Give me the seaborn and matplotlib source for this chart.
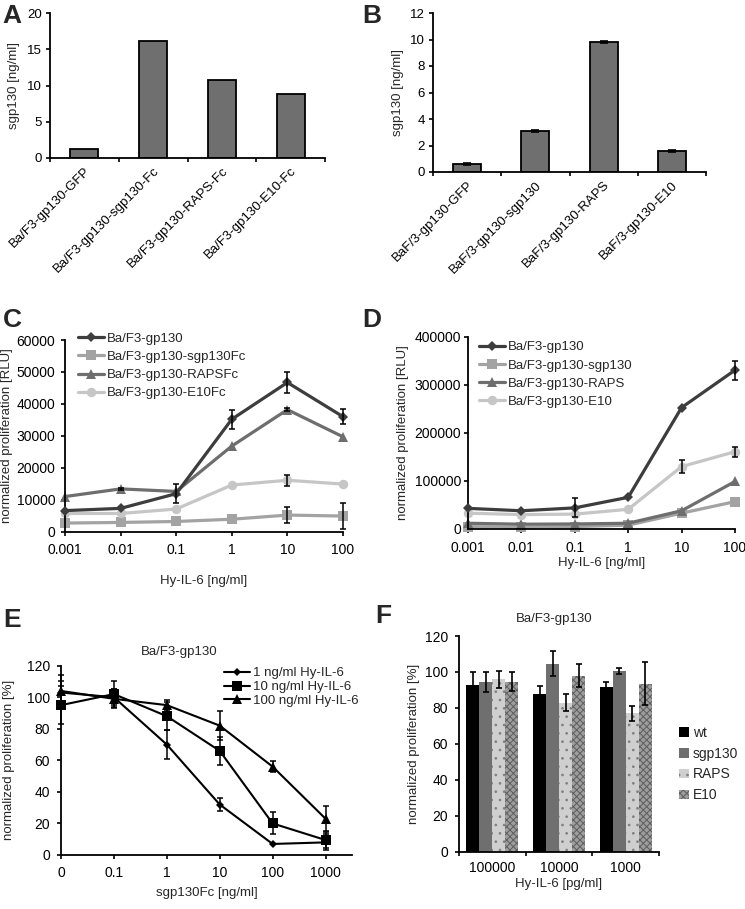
import numpy as np
import pandas as pd
import seaborn as sns
import matplotlib.pyplot as plt
from matplotlib.lines import Line2D
from matplotlib.ticker import FixedLocator
from matplotlib.transforms import blended_transform_factory

# A: sgp130 in supernatant, Fc constructs
a_cells = ["Ba/F3-gp130-GFP", "Ba/F3-gp130-sgp130-Fc", "Ba/F3-gp130-RAPS-Fc", "Ba/F3-gp130-E10-Fc"]
a_sgp130 = [1.3, 16.1, 10.8, 8.8]

# B: sgp130 in supernatant, untagged constructs
b_cells = ["BaF/3-gp130-GFP", "BaF/3-gp130-sgp130", "BaF/3-gp130-RAPS", "BaF/3-gp130-E10"]
b_sgp130 = [0.6, 3.1, 9.8, 1.6]
b_err = [0.08, 0.06, 0.1, 0.06]

# C / D: proliferation vs Hy-IL-6
hyil6_ng = ["0.001", "0.01", "0.1", "1", "10", "100"]
c_series = ["Ba/F3-gp130", "Ba/F3-gp130-sgp130Fc", "Ba/F3-gp130-RAPSFc", "Ba/F3-gp130-E10Fc"]
c_gp130 = [6600, 7300, 11900, 35200, 46700, 36000]
c_sgp130fc = [2700, 2900, 3200, 3900, 5200, 4900]
c_rapsfc = [11000, 13400, 12600, 26800, 38200, 29700]
c_e10fc = [5700, 5700, 7100, 14600, 16100, 14900]
c_gp130_err = [0, 0, 3000, 2900, 3400, 2400]
c_sgp130fc_err = [0, 0, 0, 0, 2500, 4200]
c_rapsfc_err = [0, 400, 0, 0, 500, 0]
c_e10fc_err = [0, 0, 0, 0, 1800, 0]

d_series = ["Ba/F3-gp130", "Ba/F3-gp130-sgp130", "Ba/F3-gp130-RAPS", "Ba/F3-gp130-E10"]
d_gp130 = [43000, 38000, 44000, 66000, 253000, 331000]
d_sgp130 = [5000, 4000, 5000, 8000, 33000, 57000]
d_raps = [12000, 10000, 10500, 12000, 38000, 99000]
d_e10 = [33000, 30000, 31000, 41000, 130000, 161000]
d_gp130_err = [0, 0, 20000, 0, 0, 20000]
d_e10_err = [0, 0, 0, 0, 14000, 10000]

# E: inhibition by sgp130Fc
sgp130fc_ng = ["0", "0.1", "1", "10", "100", "1000"]
e_series = ["1 ng/ml Hy-IL-6", "10 ng/ml Hy-IL-6", "100 ng/ml Hy-IL-6"]
e_1ng = [103, 100, 70, 32, 7, 8]
e_10ng = [95, 102, 88, 66, 20, 9.5]
e_100ng = [104, 99, 95, 82, 56, 23]
e_1ng_err = [7, 5, 9, 4, 0, 5]
e_10ng_err = [12, 8, 9, 9, 7, 5]
e_100ng_err = [10, 6, 3.5, 9, 3.5, 8]

# F: Ba/F3-gp130 with conditioned supernatants
f_doses = ["100000", "10000", "1000"]
f_lines = ["wt", "sgp130", "RAPS", "E10"]
f_wt = [93, 88, 91.5]
f_sgp130 = [94.5, 104.5, 100.5]
f_raps = [96, 83, 77]
f_e10 = [94.5, 98, 93.5]
f_wt_err = [7, 4, 2.7]
f_sgp130_err = [5.5, 7, 1.8]
f_raps_err = [4.7, 4.6, 4.3]
f_e10_err = [5.3, 6.3, 12]

sns.set_theme(style="ticks")
plt.rcParams["font.family"] = ["Liberation Sans", "DejaVu Sans"]
plt.rcParams["hatch.linewidth"] = 0.7

W, H = 745, 909
fig = plt.figure(figsize=(W / 100, H / 100), dpi=100)

line_grays = ["#3d3d3d", "#a3a3a3", "#6e6e6e", "#c6c6c6"]
bar_gray = "#6f6f6f"


def box(x0, y0, x1, y1):
    # pixel box (top-left origin) -> figure fraction
    return [x0 / W, 1 - y1 / H, (x1 - x0) / W, (y1 - y0) / H]


def tidy(ax, labelsize=10, xpad=4, ypad=3):
    sns.despine(ax=ax)
    for side in ["left", "bottom"]:
        ax.spines[side].set_linewidth(1.3)
        ax.spines[side].set_color("black")
    ax.tick_params(which="both", direction="out", length=3, width=1.2, colors="black", labelsize=labelsize)
    ax.tick_params(axis="x", which="both", pad=xpad)
    ax.tick_params(axis="y", which="both", pad=ypad)
    ax.set_xlabel("")
    ax.set_ylabel("")


def labels(ax, ylabel, ylab_right, xlabel=None, xlab_top=None):
    ax.set_ylabel(ylabel, fontsize=9.5)
    ax.yaxis.set_label_coords(ylab_right / W, 0.5,
                              transform=blended_transform_factory(fig.transFigure, ax.transAxes))
    if xlabel:
        ax.set_xlabel(xlabel, fontsize=9.5)
        ax.xaxis.set_label_coords(0.5, 1 - xlab_top / H,
                                  transform=blended_transform_factory(ax.transAxes, fig.transFigure))


def category_ticks(ax, names, rotation=0, pad=4):
    n = len(names)
    ax.set_xlim(-0.5, n - 0.5)
    ax.set_xticks(range(n))
    if rotation:
        ax.set_xticklabels(names, rotation=rotation, ha="right", rotation_mode="anchor")
    else:
        ax.set_xticklabels(names)
    ax.xaxis.set_minor_locator(FixedLocator(np.arange(-0.5, n, 1)))
    ax.tick_params(axis="x", which="major", length=0, pad=pad)


def add_errors(ax, x, y, err, cap=2.5, lw=1.1):
    x = np.asarray(x, float)
    y = np.asarray(y, float)
    err = np.asarray(err, float)
    keep = err > 0
    ax.errorbar(x[keep], y[keep], yerr=err[keep], fmt="none", ecolor="black",
                elinewidth=lw, capsize=cap, capthick=lw, zorder=6, clip_on=False)


def line_legend(ax, names, colors, markers, sizes, lw, x_px, y_px, spacing, fs=9.5):
    handles = [Line2D([], [], color=c, marker=m, markersize=s, lw=lw, mew=0)
               for c, m, s in zip(colors, markers, sizes)]
    ax.legend(handles, names, loc="center left", bbox_to_anchor=(x_px / W, 1 - y_px / H),
              bbox_transform=fig.transFigure, frameon=False, fontsize=fs, handlelength=2.0,
              handletextpad=0.2, labelspacing=spacing, borderpad=0, borderaxespad=0)


def panel_letter(text, x_px, base_px):
    fig.text(x_px / W, 1 - base_px / H, text, fontsize=19, fontweight="bold", va="baseline", ha="left")


# ---- A
ax_a = fig.add_axes(box(50, 13, 325, 158))
sns.barplot(x=a_cells, y=a_sgp130, color=bar_gray, saturation=1, edgecolor="black",
            linewidth=1.3, width=0.41, ax=ax_a)
tidy(ax_a, labelsize=9.5)
category_ticks(ax_a, a_cells, rotation=45, pad=5)
ax_a.set_ylim(0, 20)
ax_a.set_yticks(range(0, 21, 5))
labels(ax_a, "sgp130 [ng/ml]", 20)

# ---- B
ax_b = fig.add_axes(box(433, 13, 706, 172))
sns.barplot(x=b_cells, y=b_sgp130, color=bar_gray, saturation=1, edgecolor="black",
            linewidth=1.3, width=0.41, ax=ax_b)
add_errors(ax_b, range(len(b_cells)), b_sgp130, b_err, cap=3, lw=1.2)
tidy(ax_b, labelsize=9.5)
category_ticks(ax_b, b_cells, rotation=45, pad=5)
ax_b.set_ylim(0, 12)
ax_b.set_yticks(range(0, 13, 2))
labels(ax_b, "sgp130 [ng/ml]", 404)


def dose_lines(ax, series, values, markers, colors, lw, ms, ds):
    n = len(values[0])
    df = pd.DataFrame({
        "pos": list(range(n)) * len(series),
        "val": sum(values, []),
        "line": np.repeat(series, n),
    })
    sns.lineplot(data=df, x="pos", y="val", hue="line", style="line", palette=colors,
                 markers=markers, dashes=False, linewidth=lw, markersize=ms,
                 markeredgewidth=0, clip_on=False, legend=False, ax=ax)
    for ln in ax.lines:
        if ln.get_marker() == "D":
            ln.set_markersize(ds)
    ax.lines[0].set_zorder(4)


# ---- C
ax_c = fig.add_axes(box(65, 340, 343, 531.7))
dose_lines(ax_c, c_series, [c_gp130, c_sgp130fc, c_rapsfc, c_e10fc],
           ["D", "s", "^", "o"], line_grays, 2.3, 6.8, 5)
for vals, errs in zip([c_gp130, c_sgp130fc, c_rapsfc, c_e10fc],
                      [c_gp130_err, c_sgp130fc_err, c_rapsfc_err, c_e10fc_err]):
    add_errors(ax_c, range(len(hyil6_ng)), vals, errs)
tidy(ax_c, xpad=5, ypad=4)
ax_c.set_xlim(0, len(hyil6_ng) - 1)
ax_c.set_xticks(range(len(hyil6_ng)))
ax_c.set_xticklabels(hyil6_ng)
ax_c.set_ylim(0, 60000)
ax_c.set_yticks(range(0, 60001, 10000))
labels(ax_c, "normalized proliferation [RLU]", 13, "Hy-IL-6 [ng/ml]", 575)
line_legend(ax_c, c_series, line_grays, ["D", "s", "^", "o"], [5, 6.8, 6.8, 6.8], 2.3,
            78, 366, 0.45)

# ---- D
ax_d = fig.add_axes(box(468, 337, 735, 529))
dose_lines(ax_d, d_series, [d_gp130, d_sgp130, d_raps, d_e10],
           ["D", "s", "^", "o"], line_grays, 2.3, 6.8, 5)
for vals, errs in zip([d_gp130, d_e10], [d_gp130_err, d_e10_err]):
    add_errors(ax_d, range(len(hyil6_ng)), vals, errs)
tidy(ax_d, xpad=6, ypad=2)
ax_d.set_xlim(0, len(hyil6_ng) - 1)
ax_d.set_xticks(range(len(hyil6_ng)))
ax_d.set_xticklabels(hyil6_ng)
ax_d.set_ylim(0, 400000)
ax_d.set_yticks(range(0, 400001, 100000))
labels(ax_d, "normalized proliferation [RLU]", 409, "Hy-IL-6 [ng/ml]", 557)
line_legend(ax_d, d_series, line_grays, ["D", "s", "^", "o"], [5, 6.8, 6.8, 6.8], 2.3,
            479, 374.5, 0.45)

# ---- E
ax_e = fig.add_axes(box(61, 665.7, 352, 855))
dose_lines(ax_e, e_series, [e_1ng, e_10ng, e_100ng], ["D", "s", "^"],
           ["black", "black", "black"], 1.5, 6.5, 4.5)
for vals, errs in zip([e_1ng, e_10ng, e_100ng], [e_1ng_err, e_10ng_err, e_100ng_err]):
    add_errors(ax_e, range(len(sgp130fc_ng)), vals, errs)
tidy(ax_e, xpad=5, ypad=5)
ax_e.set_xlim(0, len(sgp130fc_ng) - 0.5)
ax_e.set_xticks(range(len(sgp130fc_ng)))
ax_e.set_xticklabels(sgp130fc_ng)
ax_e.set_ylim(0, 120)
ax_e.set_yticks(range(0, 121, 20))
labels(ax_e, "normalized proliferation [%]", 15, "sgp130Fc [ng/ml]", 887)
fig.text(179 / W, 1 - 652 / H, "Ba/F3-gp130", fontsize=9.5, ha="center", va="center")
line_legend(ax_e, e_series, ["black"] * 3, ["D", "s", "^"], [4.5, 6.5, 6.5], 1.5,
            224, 687, 0.12)

# ---- F
ax_f = fig.add_axes(box(459, 636, 659, 851.7))
df_f = pd.DataFrame({
    "dose": f_doses * len(f_lines),
    "cells": np.repeat(f_lines, len(f_doses)),
    "prolif": f_wt + f_sgp130 + f_raps + f_e10,
})
sns.barplot(data=df_f, x="dose", y="prolif", hue="cells",
            palette=["#000000", "#6f6f6f", "#cfcfcf", "#9d9d9d"], saturation=1,
            width=0.78, gap=0, linewidth=0, errorbar=None, legend=False, ax=ax_f)
bar_sets = list(ax_f.containers)
for cont, hatch, hc in zip(bar_sets[2:], ["..", "xxxxx"], ["#808080", "#5e5e5e"]):
    for bar in cont:
        bar.set_hatch(hatch)
        bar.set_edgecolor(hc)
        bar.set_linewidth(0)
for cont, errs in zip(bar_sets, [f_wt_err, f_sgp130_err, f_raps_err, f_e10_err]):
    xs = [b.get_x() + b.get_width() / 2 for b in cont]
    ys = [b.get_height() for b in cont]
    add_errors(ax_f, xs, ys, errs, cap=2.5, lw=1.2)
tidy(ax_f, ypad=5)
category_ticks(ax_f, f_doses, pad=7)
ax_f.set_ylim(0, 120)
ax_f.set_yticks(range(0, 121, 20))
labels(ax_f, "normalized proliferation [%]", 420, "Hy-IL-6 [pg/ml]", 878)
fig.text(554 / W, 1 - 619 / H, "Ba/F3-gp130", fontsize=9.5, ha="center", va="center")
ax_f.legend([c.patches[0] for c in bar_sets], f_lines, loc="center left",
            bbox_to_anchor=(679 / W, 1 - 764 / H), bbox_transform=fig.transFigure,
            frameon=False, fontsize=10, handlelength=0.7, handleheight=0.7,
            handletextpad=0.3, labelspacing=0.5, borderpad=0, borderaxespad=0)

panel_letter("A", 2, 23)
panel_letter("B", 362, 23)
panel_letter("C", 3, 327)
panel_letter("D", 362, 327)
panel_letter("E", 3, 627)
panel_letter("F", 375, 623)

fig.savefig("out.png", dpi=100)
